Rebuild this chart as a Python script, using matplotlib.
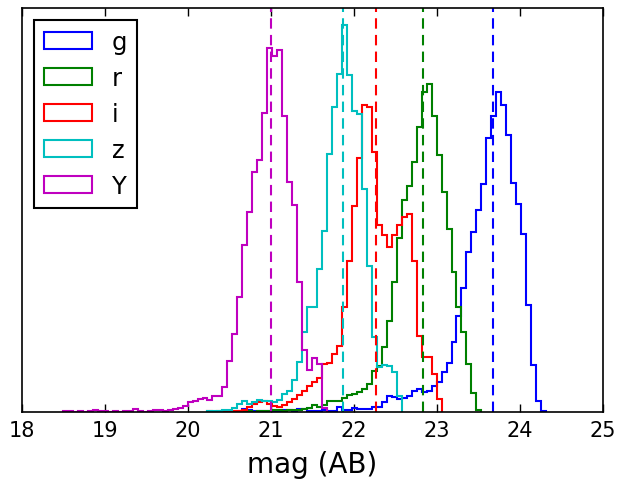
import numpy as np
import matplotlib
matplotlib.use("Agg")
import matplotlib.pyplot as plt

# histogram bins (mag), shared by all bands
bin_width = 0.06
bin_origin = 18.435

bands = ["g", "r", "i", "z", "Y"]
colors = ["b", "g", "r", "c", "m"]

# index of the first bin of each band on the shared grid
g_first, r_first, i_first, z_first, Y_first = 36, 37, 30, 30, 1

g_counts = [1, 3, 2, 1, 1, 1, 1, 1, 1, 2, 2, 1, 3, 3, 1, 1, 1, 2, 1, 1,
            5, 2, 2, 4, 3, 3, 3, 5, 5, 10, 16, 15, 13, 14, 16, 21, 23, 20, 21, 26,
            30, 40, 49, 70, 96, 124, 160, 180, 202, 228, 274, 296, 320, 307, 277, 229,
            208, 178, 107, 47, 11, 1]
r_counts = [1, 1, 0, 1, 1, 1, 2, 2, 1, 2, 2, 2, 3, 4, 7, 5, 7, 11, 11, 11,
            14, 17, 18, 20, 23, 28, 41, 46, 65, 91, 130, 174, 212, 226, 250, 285,
            320, 328, 296, 257, 220, 183, 140, 105, 80, 48, 19, 2]
i_counts = [1, 0, 1, 1, 1, 1, 1, 2, 5, 8, 10, 11, 8, 6, 5, 7, 10, 13, 17, 21,
            26, 30, 34, 48, 49, 58, 66, 105, 151, 206, 254, 307, 305, 260, 187,
            177, 165, 177, 187, 195, 198, 151, 76, 55, 55, 38, 13]
z_counts = [1, 1, 1, 2, 2, 4, 8, 11, 8, 10, 12, 11, 11, 10, 12, 18, 21, 32,
            50, 80, 105, 105, 143, 181, 258, 305, 338, 387, 337, 301, 298, 223,
            146, 75, 45, 47, 46, 40, 16]
Y_counts = [1, 1, 0, 1, 0, 1, 2, 1, 1, 0, 1, 0, 1, 1, 3, 1, 0, 1, 2, 2,
            1, 2, 3, 4, 6, 10, 11, 13, 14, 12, 16, 16, 25, 51, 78, 115, 167, 200,
            240, 252, 299, 364, 356, 362, 296, 230, 207, 130, 62, 42, 54, 48, 4]

# median magnitude of each band (dashed lines)
medians = [23.67, 22.83, 22.27, 21.87, 21.0]

firsts = [g_first, r_first, i_first, z_first, Y_first]
all_counts = [g_counts, r_counts, i_counts, z_counts, Y_counts]

fig = plt.figure(figsize=(6.18, 4.81), dpi=100)
ax = fig.add_axes([0.0356, 0.1414, 0.9401, 0.8399])

for band, col, first, c in zip(bands, colors, firsts, all_counts):
    edges = bin_origin + bin_width * (first + np.arange(len(c) + 1))
    centers = 0.5 * (edges[:-1] + edges[1:])
    ax.hist(centers, bins=edges, weights=c, histtype="step", color=col,
            linewidth=1.5, label=band)

for med, col in zip(medians, colors):
    ax.axvline(med, color=col, linestyle=(0, (5, 3)), linewidth=1.5)

ax.set_xlim(18, 25)
ax.set_ylim(0, 404)
ax.set_yticks([])
ax.set_xticks(range(18, 26))
ax.tick_params(axis="x", direction="in", top=True, length=6, width=1,
               labelsize=15, pad=6)
for s in ax.spines.values():
    s.set_linewidth(1.2)
ax.set_xlabel("mag (AB)", fontsize=20, labelpad=7)

leg = ax.legend(loc="upper left", fontsize=17.5, fancybox=False, edgecolor="k",
                framealpha=1, borderaxespad=0.5, handlelength=2,
                handleheight=0.7, labelspacing=0.5, borderpad=0.4,
                handletextpad=0.8)
leg.get_frame().set_linewidth(1.5)

fig.savefig("out.png", dpi=100)
